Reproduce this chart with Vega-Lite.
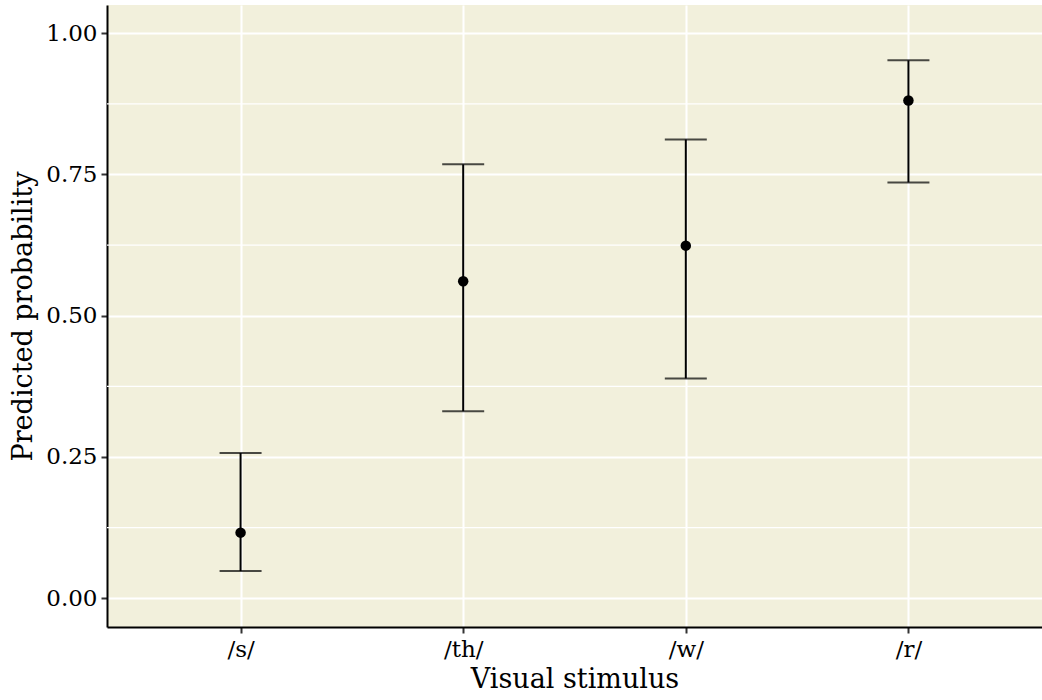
{
  "$schema": "https://vega.github.io/schema/vega-lite/v6.json",
  "width": 935,
  "height": 622,
  "autosize": {"type": "none"},
  "padding": {"left": 107, "top": 5, "right": 0, "bottom": 73},
  "background": "white",
  "config": {
    "font": "DejaVu Serif",
    "view": {"fill": "#F2F0DC", "stroke": null},
    "axis": {
      "domainColor": "black",
      "domainWidth": 2,
      "tickColor": "#333333",
      "tickWidth": 2,
      "tickSize": 6,
      "gridColor": "white",
      "gridWidth": 2,
      "labelColor": "black",
      "titleColor": "black",
      "labelFont": "DejaVu Serif",
      "titleFont": "DejaVu Serif",
      "titleFontWeight": "normal",
      "labelFontSize": 23,
      "titleFontSize": 27
    }
  },
  "datasets": {
    "est": [
      {"stimulus": "/s/", "p": 0.116, "lo": 0.048, "hi": 0.257},
      {"stimulus": "/th/", "p": 0.561, "lo": 0.331, "hi": 0.768},
      {"stimulus": "/w/", "p": 0.624, "lo": 0.389, "hi": 0.812},
      {"stimulus": "/r/", "p": 0.881, "lo": 0.736, "hi": 0.952}
    ],
    "minor": [{"v": 0.125}, {"v": 0.375}, {"v": 0.625}, {"v": 0.875}]
  },
  "layer": [
    {
      "data": {"name": "minor"},
      "mark": {"type": "rule", "color": "white", "strokeWidth": 1.2},
      "encoding": {
        "y": {"field": "v", "type": "quantitative", "scale": {"domain": [-0.051, 1.05], "nice": false, "zero": false}}
      }
    },
    {
      "data": {"name": "est"},
      "layer": [
        {
          "mark": {"type": "rule", "color": "black", "strokeWidth": 2},
          "encoding": {
            "x": {"field": "stimulus", "type": "nominal", "sort": ["/s/", "/th/", "/w/", "/r/"],
                  "scale": {"type": "point", "padding": 0.6},
                  "axis": {"title": "Visual stimulus", "labelAngle": 0, "grid": true, "labelPadding": 5, "titlePadding": 5}},
            "y": {"field": "lo", "type": "quantitative",
                  "scale": {"domain": [-0.051, 1.05], "nice": false, "zero": false},
                  "axis": {"title": "Predicted probability", "values": [0, 0.25, 0.5, 0.75, 1], "format": ".2f", "grid": true, "labelPadding": 4, "titlePadding": 8}},
            "y2": {"field": "hi"}
          }
        },
        {
          "mark": {"type": "tick", "orient": "horizontal", "color": "black", "size": 42, "thickness": 2},
          "encoding": {
            "x": {"field": "stimulus", "type": "nominal", "sort": ["/s/", "/th/", "/w/", "/r/"]},
            "y": {"field": "lo", "type": "quantitative"}
          }
        },
        {
          "mark": {"type": "tick", "orient": "horizontal", "color": "black", "size": 42, "thickness": 2},
          "encoding": {
            "x": {"field": "stimulus", "type": "nominal", "sort": ["/s/", "/th/", "/w/", "/r/"]},
            "y": {"field": "hi", "type": "quantitative"}
          }
        },
        {
          "mark": {"type": "point", "filled": true, "color": "black", "size": 110, "opacity": 1},
          "encoding": {
            "x": {"field": "stimulus", "type": "nominal", "sort": ["/s/", "/th/", "/w/", "/r/"]},
            "y": {"field": "p", "type": "quantitative"}
          }
        }
      ]
    }
  ]
}
